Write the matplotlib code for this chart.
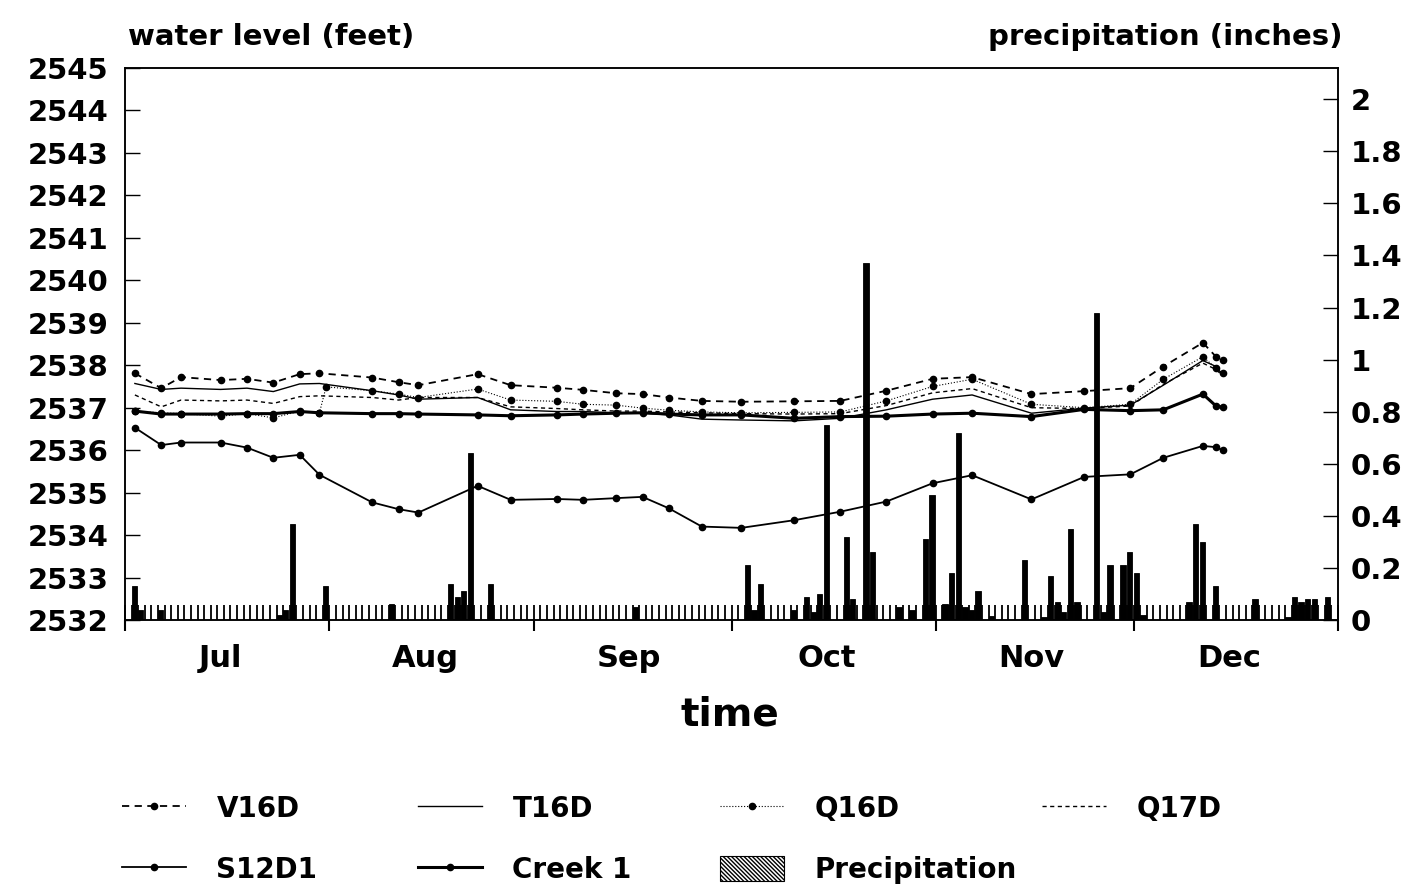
import numpy as np
import matplotlib
matplotlib.use("Agg")
import matplotlib.pyplot as plt
from matplotlib.patches import Patch
from matplotlib.ticker import MultipleLocator, FixedLocator, FormatStrFormatter

plt.rcParams['font.family'] = ['DejaVu Sans']
plt.rcParams['font.weight'] = 'bold'
plt.rcParams['hatch.linewidth'] = 1.0

# ---------------- data (x = days since 1 July) ----------------
obs_days = [1.5, 5.5, 8.5, 14.5, 18.5, 22.5, 26.5, 29.5, 37.5, 41.5, 44.5, 53.5,
            58.5, 65.5, 69.5, 74.5, 78.5, 82.5, 87.5, 93.5, 101.5, 108.5, 115.5,
            122.5, 128.5, 137.5, 145.5, 152.5, 157.5, 163.5, 165.5, 166.5]

v16d = [2537.81, 2537.46, 2537.72, 2537.65, 2537.68, 2537.59, 2537.79, 2537.81,
        2537.71, 2537.60, 2537.53, 2537.79, 2537.53, 2537.47, 2537.42, 2537.34,
        2537.32, 2537.24, 2537.16, 2537.14, 2537.15, 2537.16, 2537.40, 2537.68,
        2537.72, 2537.32, 2537.39, 2537.46, 2537.97, 2538.53, 2538.20, 2538.12]

t16d = [2537.57, 2537.43, 2537.46, 2537.43, 2537.46, 2537.38, 2537.56, 2537.57,
        2537.40, 2537.30, 2537.20, 2537.24, 2536.95, 2536.91, 2536.91, 2536.88,
        2536.87, 2536.83, 2536.73, 2536.71, 2536.69, 2536.75, 2536.95, 2537.20,
        2537.30, 2536.87, 2536.99, 2537.06, 2537.53, 2538.11, 2537.97, 2537.77]

q16d_days = [1.5, 5.5, 8.5, 14.5, 18.5, 22.5, 26.5, 29.5, 30.5, 37.5, 41.5, 44.5,
             53.5, 58.5, 65.5, 69.5, 74.5, 78.5, 82.5, 87.5, 93.5, 101.5, 108.5,
             115.5, 122.5, 128.5, 137.5, 145.5, 152.5, 157.5, 163.5, 165.5, 166.5]
q16d = [2536.92, 2536.88, 2536.86, 2536.80, 2536.86, 2536.76, 2536.92, 2536.88,
        2537.49, 2537.40, 2537.32, 2537.24, 2537.44, 2537.18, 2537.15, 2537.08,
        2537.06, 2536.99, 2536.94, 2536.90, 2536.88, 2536.89, 2536.90, 2537.16,
        2537.50, 2537.67, 2537.08, 2537.00, 2537.08, 2537.67, 2538.20, 2537.93,
        2537.81]

q17d = [2537.30, 2537.02, 2537.18, 2537.16, 2537.18, 2537.10, 2537.26, 2537.28,
        2537.24, 2537.18, 2537.24, 2537.24, 2537.02, 2536.98, 2536.95, 2536.92,
        2536.92, 2536.90, 2536.88, 2536.86, 2536.85, 2536.86, 2537.05, 2537.35,
        2537.45, 2537.00, 2536.98, 2537.04, 2537.55, 2538.05, 2537.90, 2537.75]

s12d1 = [2536.53, 2536.12, 2536.18, 2536.18, 2536.06, 2535.82, 2535.89, 2535.42,
         2534.77, 2534.61, 2534.53, 2535.16, 2534.83, 2534.85, 2534.83, 2534.87,
         2534.90, 2534.63, 2534.20, 2534.17, 2534.35, 2534.55, 2534.79, 2535.22,
         2535.41, 2534.84, 2535.37, 2535.43, 2535.82, 2536.10, 2536.07, 2536.00]

creek1 = [2536.92, 2536.85, 2536.85, 2536.85, 2536.86, 2536.86, 2536.91, 2536.88,
          2536.86, 2536.86, 2536.85, 2536.83, 2536.81, 2536.83, 2536.85, 2536.87,
          2536.88, 2536.85, 2536.83, 2536.83, 2536.75, 2536.79, 2536.80, 2536.85,
          2536.87, 2536.79, 2536.96, 2536.93, 2536.95, 2537.32, 2537.04, 2537.01]

precip_days = [1, 2, 5, 23, 24, 25, 30, 40, 49, 50, 51, 52, 55, 77, 94, 95, 96,
               101, 103, 104, 105, 106, 109, 110, 112, 113, 117, 119, 121, 122,
               124, 125, 126, 127, 128, 129, 131, 136, 139, 140, 141, 142, 143,
               144, 147, 148, 149, 151, 152, 153, 154, 161, 162, 163, 165, 171,
               176, 177, 178, 179, 180, 182]
precip_in = [0.13, 0.04, 0.04, 0.02, 0.04, 0.37, 0.13, 0.06, 0.14, 0.09, 0.11,
             0.64, 0.14, 0.05, 0.21, 0.04, 0.14, 0.04, 0.09, 0.03, 0.10, 0.75,
             0.32, 0.08, 1.37, 0.26, 0.05, 0.04, 0.31, 0.48, 0.06, 0.18, 0.72,
             0.05, 0.04, 0.11, 0.015, 0.23, 0.01, 0.17, 0.07, 0.03, 0.35, 0.07,
             1.18, 0.03, 0.21, 0.21, 0.26, 0.18, 0.02, 0.07, 0.37, 0.30, 0.13,
             0.08, 0.01, 0.09, 0.07, 0.08, 0.08, 0.09]

month_names = ['Jul', 'Aug', 'Sep', 'Oct', 'Nov', 'Dec']
month_start_days = [0, 31, 62, 92, 123, 153, 184]
month_label_days = [14.5, 45.5, 76.5, 106.5, 137.5, 167.5]
level_ticks = list(range(2532, 2546))
precip_ticks = [0, 0.2, 0.4, 0.6, 0.8, 1.0, 1.2, 1.4, 1.6, 1.8, 2.0]

# ---------------- figure ----------------
W, H = 1419, 889
fig = plt.figure(figsize=(W / 100, H / 100), dpi=100)
L, R, T, B = 125, 1338, 68, 620
ax = fig.add_axes([L / W, 1 - B / H, (R - L) / W, (B - T) / H])
ax2 = ax.twinx()
ax.set_zorder(ax2.get_zorder() + 1)
ax.patch.set_visible(False)

# precipitation bars
ax2.bar(np.array(precip_days) + 0.4, precip_in, width=0.8, facecolor='black',
        edgecolor='black', linewidth=0.6)
ax2.set_ylim(0, 2.12)

# water level lines
h_v16d, = ax.plot(obs_days, v16d, color='black', lw=1.3, dashes=(4, 3),
                  marker='o', ms=4.5, label='V16D')
h_t16d, = ax.plot(obs_days, t16d, color='black', lw=1.0, label='T16D')
h_q16d, = ax.plot(q16d_days, q16d, color='black', lw=0.8, ls=':',
                  marker='o', ms=4.5, label='Q16D')
h_q17d, = ax.plot(obs_days, q17d, color='black', lw=1.0, dashes=(3, 2.5),
                  label='Q17D')
h_s12d1, = ax.plot(obs_days, s12d1, color='black', lw=1.3, marker='o', ms=4.5,
                   label='S12D1')
h_creek, = ax.plot(obs_days, creek1, color='black', lw=2.2, marker='o', ms=4.5,
                   label='Creek 1')

ax.set_xlim(month_start_days[0], month_start_days[-1])
ax.set_ylim(2532, 2545)

# spines
for a in (ax, ax2):
    for s in a.spines.values():
        s.set_linewidth(1.1)

# x ticks
ax.xaxis.set_major_locator(FixedLocator(month_start_days))
ax.xaxis.set_minor_locator(MultipleLocator(1))
ax.xaxis.remove_overlapping_locs = False
ax.tick_params(axis='x', which='major', direction='out', length=8, width=1.5,
               labelbottom=False, top=False)
ax.tick_params(axis='x', which='minor', direction='in', length=11, width=1.3,
               top=False)
for d, name in zip(month_label_days, month_names):
    ax.text(d, -0.07, name, transform=ax.get_xaxis_transform(),
            ha='center', va='center', fontsize=22, fontweight='bold')

# y ticks
ax.set_yticks(level_ticks)
ax.tick_params(axis='y', direction='in', length=11, width=1.0, pad=12,
               labelsize=21)
ax2.set_yticks(precip_ticks)
ax2.yaxis.set_major_formatter(FormatStrFormatter('%g'))
ax2.tick_params(axis='y', direction='in', length=11, width=1.0, pad=9,
                labelsize=21)

# titles
fig.text(128 / W, 1 - 45 / H, 'water level (feet)', ha='left', va='baseline',
         fontsize=21, fontweight='bold')
fig.text(1343 / W, 1 - 45 / H, 'precipitation (inches)', ha='right',
         va='baseline', fontsize=21, fontweight='bold')
fig.text(730 / W, 1 - 715 / H, 'time', ha='center', va='center',
         fontsize=28, fontweight='bold')

# legend (four columns)
h_precip = Patch(facecolor='white', edgecolor='black', linewidth=0.8,
                 hatch='\\\\\\\\\\\\\\\\', label='Precipitation')
cols = [([h_v16d, h_s12d1], 122), ([h_t16d, h_creek], 418),
        ([h_q16d, h_precip], 720), ([h_q17d], 1042)]
for handles, x0 in cols:
    fig.legend(handles=handles, loc='upper left',
               bbox_to_anchor=(x0 / W, 1 - 795 / H), frameon=False,
               fontsize=20, handlelength=2.3, handletextpad=1.1,
               borderpad=0, borderaxespad=0, labelspacing=1.18,
               handleheight=1.0)

fig.savefig('out.png', dpi=100)
